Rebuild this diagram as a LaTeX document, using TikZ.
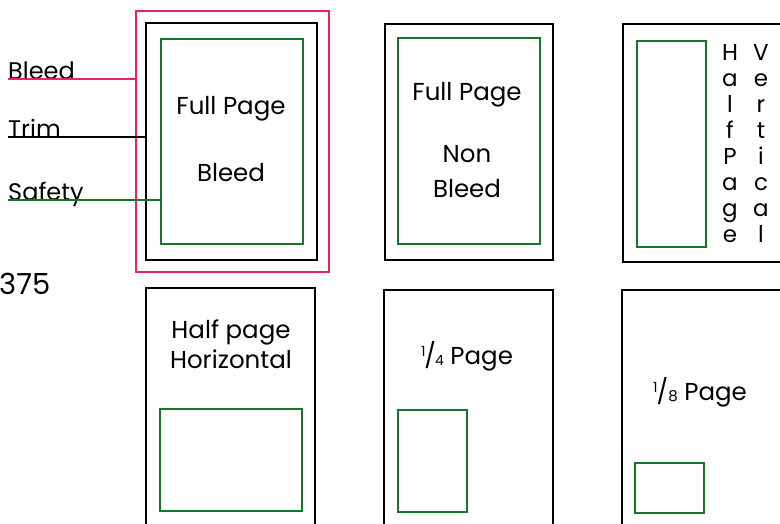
\documentclass[tikz,border=0pt]{standalone}
\usepackage{fontspec}
\setmainfont{Poppins}
\usetikzlibrary{positioning}
\definecolor{bleedred}{RGB}{232,38,88}
\definecolor{safegreen}{RGB}{22,118,42}
\tikzset{
  trimbox/.style={
    draw = black,
    line width = 1.8pt,
    inner sep = 0pt,
    outer sep = 0pt
  },
  safebox/.style={
    draw = safegreen,
    line width = 1.5pt,
    inner sep = 0pt,
    outer sep = 0pt
  },
  bleedbox/.style={
    draw = bleedred,
    line width = 1.4pt,
    inner sep = 0pt,
    outer sep = 0pt
  },
  caption/.style={
    anchor = base,
    inner sep = 0pt,
    font = \fontsize{24.5}{28}\selectfont
  },
  tag/.style={
    anchor = base west,
    inner sep = 0pt,
    font = \fontsize{24}{28}\selectfont
  },
  letter/.style={
    anchor = base,
    inner sep = 0pt,
    font = \fontsize{23}{28}\selectfont
  }
}
\newcommand{\smallfrac}[2]{\raisebox{0.55ex}{\fontsize{14}{14}\selectfont #1}\kern-1pt/\kern-1pt\raisebox{-0.1ex}{\fontsize{14}{14}\selectfont #2}}

\begin{document}
\begin{tikzpicture}[x=1pt,y=-1pt]
\useasboundingbox (0,0) rectangle (780,523);
\clip (0,0) rectangle (780,523);
% full page bleed
\node[bleedbox, minimum width=193pt, minimum height=261pt] (fpBleed) at (232.5,141.5) {};
\node[trimbox, minimum width=171pt, minimum height=237pt] (fpTrim) at (231.5,141.5) {};
\node[safebox, minimum width=142pt, minimum height=205pt] (fpSafe) at (232,141.5) {};
\node[caption] (fpText1) at (231,114) {Full Page};
\node[caption] (fpText2) at (231,181) {Bleed};
% leader labels
\node[tag] (lblBleed) at (8,79) {Bleed};
\node[tag] (lblTrim) at (8,137) {Trim};
\node[tag] (lblSafety) at (8,200) {Safety};
\draw[bleedred, line width=1.4pt] (lblBleed.base west) -- (lblBleed.base west -| fpBleed.west);
\draw[black, line width=1.4pt] (lblTrim.base west) -- (lblTrim.base west -| fpTrim.west);
\draw[safegreen, line width=1.4pt] (lblSafety.base west) -- (lblSafety.base west -| fpSafe.west);
\node[tag, font=\fontsize{29}{32}\selectfont] (lblSize) at (-1,294) {375};
% full page non bleed
\node[trimbox, minimum width=168pt, minimum height=236pt] (nbTrim) at (469,142) {};
\node[safebox, minimum width=142pt, minimum height=206pt] (nbSafe) at (469,141) {};
\node[caption] (nbText1) at (467,100) {Full Page};
\node[caption] (nbText2) at (467,162) {Non};
\node[caption] (nbText3) at (467,197) {Bleed};
% half page vertical
\node[trimbox, minimum width=168pt, minimum height=238pt] (hvTrim) at (707,143) {};
\node[safebox, minimum width=69pt, minimum height=206pt] (hvSafe) at (671.5,144) {};
\foreach \ch [count=\i] in {H,a,l,f,P,a,g,e}
  \node[letter] (hvA\i) at (730,60+26.1*\i-26.1) {\ch};
\foreach \ch [count=\i] in {V,e,r,t,i,c,a,l}
  \node[letter] (hvB\i) at (761,60+26.1*\i-26.1) {\ch};
% half page horizontal
\node[trimbox, minimum width=169pt, minimum height=238pt] (hhTrim) at (230.5,407) {};
\node[safebox, minimum width=142pt, minimum height=102pt] (hhSafe) at (231,460) {};
\node[caption] (hhText1) at (231,338) {Half page};
\node[caption] (hhText2) at (231,368) {Horizontal};
% quarter page
\node[trimbox, minimum width=169pt, minimum height=238pt] (qpTrim) at (468.5,409) {};
\node[safebox, minimum width=69pt, minimum height=102pt] (qpSafe) at (432.5,461) {};
\node[caption] (qpText) at (467,364) {\smallfrac{1}{4} Page};
% eighth page
\node[trimbox, minimum width=168pt, minimum height=238pt] (epTrim) at (706,409) {};
\node[safebox, minimum width=69pt, minimum height=50pt] (epSafe) at (669.5,488) {};
\node[caption] (epText) at (700,400) {\raisebox{0.55ex}{\fontsize{14}{14}\selectfont 1}\kern-1pt/\raisebox{-0.1ex}{\fontsize{15}{15}\selectfont 8} Page};
\end{tikzpicture}
\end{document}
